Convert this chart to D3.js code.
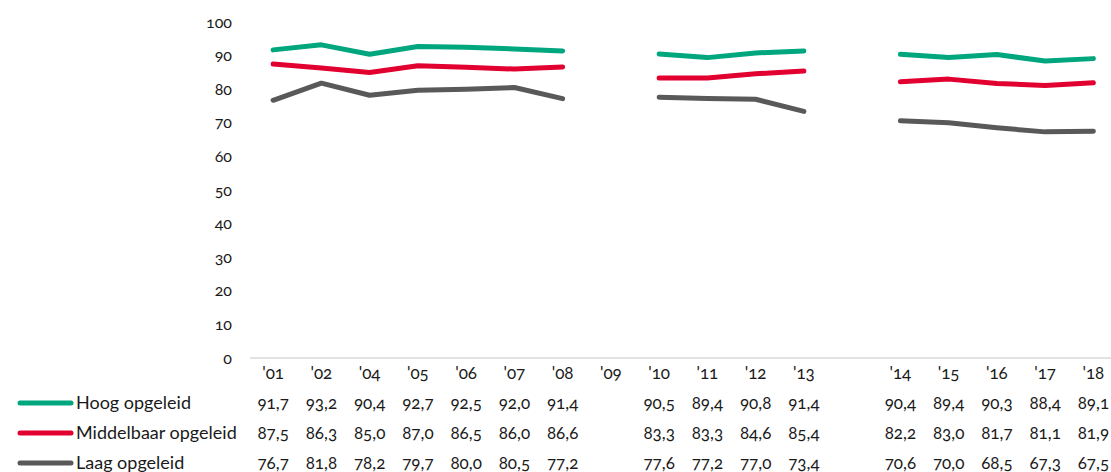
<!DOCTYPE html>
<html>
<head>
<meta charset="utf-8">
<script src="https://cdn.jsdelivr.net/npm/d3@7"></script>
<style>
  body { margin: 0; background: #fff; }
  text { font-family: Lato, "Open Sans", sans-serif; font-variant-numeric: oldstyle-nums; fill: #1a1a1a; }
</style>
</head>
<body>
<div id="chart"></div>
<script>
// jaren, met een lege kolom tussen '13 en '14
const years = ["'01", "'02", "'04", "'05", "'06", "'07", "'08", "'09", "'10", "'11", "'12", "'13", "", "'14", "'15", "'16", "'17", "'18"];
const seriesNames = ["Hoog opgeleid", "Middelbaar opgeleid", "Laag opgeleid"];
const hoog = [91.7, 93.2, 90.4, 92.7, 92.5, 92.0, 91.4, null, 90.5, 89.4, 90.8, 91.4, null, 90.4, 89.4, 90.3, 88.4, 89.1];
const middelbaar = [87.5, 86.3, 85.0, 87.0, 86.5, 86.0, 86.6, null, 83.3, 83.3, 84.6, 85.4, null, 82.2, 83.0, 81.7, 81.1, 81.9];
const laag = [76.7, 81.8, 78.2, 79.7, 80.0, 80.5, 77.2, null, 77.6, 77.2, 77.0, 73.4, null, 70.6, 70.0, 68.5, 67.3, 67.5];
const yTicks = [0, 10, 20, 30, 40, 50, 60, 70, 80, 90, 100];

render();

function render() {
    const width = 1111, height = 472;
    const colors = ["#00a67d", "#e1002f", "#595959"];
    const series = [hoog, middelbaar, laag];

    const svg = d3.select('#chart').append('svg')
        .attr('width', width)
        .attr('height', height);

    const x = d3.scaleBand()
        .domain(years)
        .range([249, 249 + years.length * 48.25]);
    const cx = d => x(d) + x.bandwidth() / 2;

    const y = d3.scaleLinear()
        .domain([0, 100])
        .range([358, 22]);

    const nl = d3.formatLocale({decimal: ",", thousands: ".", grouping: [3], currency: ["€", ""]});
    const fmt = nl.format(".1f");

    // y-as
    const yAxis = svg.append('g')
        .attr('transform', 'translate(241,0)')
        .call(d3.axisLeft(y).tickValues(yTicks).tickSize(0).tickPadding(9));
    yAxis.select('.domain').remove();
    yAxis.selectAll('text')
        .style('font-family', 'Lato, sans-serif')
        .style('font-size', '16px')
        .attr('fill', '#1a1a1a');

    // x-as lijn
    svg.append('line')
        .attr('x1', 250).attr('x2', width)
        .attr('y1', y(0)).attr('y2', y(0))
        .attr('stroke', '#d9d9d9')
        .attr('stroke-width', 1.5);

    // lijnen
    const line = d3.line()
        .defined(d => d.v != null)
        .x(d => cx(d.c))
        .y(d => y(d.v));

    series.forEach((vals, i) => {
        svg.append('path')
            .datum(years.map((c, j) => ({c: c, v: vals[j]})))
            .attr('d', line)
            .attr('fill', 'none')
            .attr('stroke', colors[i])
            .attr('stroke-width', 5)
            .attr('stroke-linecap', 'round')
            .attr('stroke-linejoin', 'round');
    });

    // categorie labels
    svg.selectAll('.xlabel')
        .data(years)
        .enter()
        .append('text')
        .attr('class', 'xlabel')
        .attr('x', cx)
        .attr('y', 373)
        .attr('dy', '0.35em')
        .attr('text-anchor', 'middle')
        .style('font-size', '17px')
        .text(d => d);

    // datatabel
    const rowY = [403, 433, 463];
    series.forEach((vals, i) => {
        const row = svg.append('g');
        row.append('line')
            .attr('x1', 20).attr('x2', 71)
            .attr('y1', rowY[i]).attr('y2', rowY[i])
            .attr('stroke', colors[i])
            .attr('stroke-width', 5)
            .attr('stroke-linecap', 'round');
        row.append('text')
            .attr('x', 76)
            .attr('y', rowY[i])
            .attr('dy', '0.35em')
            .style('font-size', '18px')
            .text(seriesNames[i]);
        row.selectAll('.val')
            .data(years.map((c, j) => ({c: c, v: vals[j]})).filter(d => d.v != null))
            .enter()
            .append('text')
            .attr('class', 'val')
            .attr('x', d => cx(d.c))
            .attr('y', rowY[i])
            .attr('dy', '0.35em')
            .attr('text-anchor', 'middle')
            .style('font-size', '17px')
            .text(d => fmt(d.v));
    });
}
</script>
</body>
</html>
